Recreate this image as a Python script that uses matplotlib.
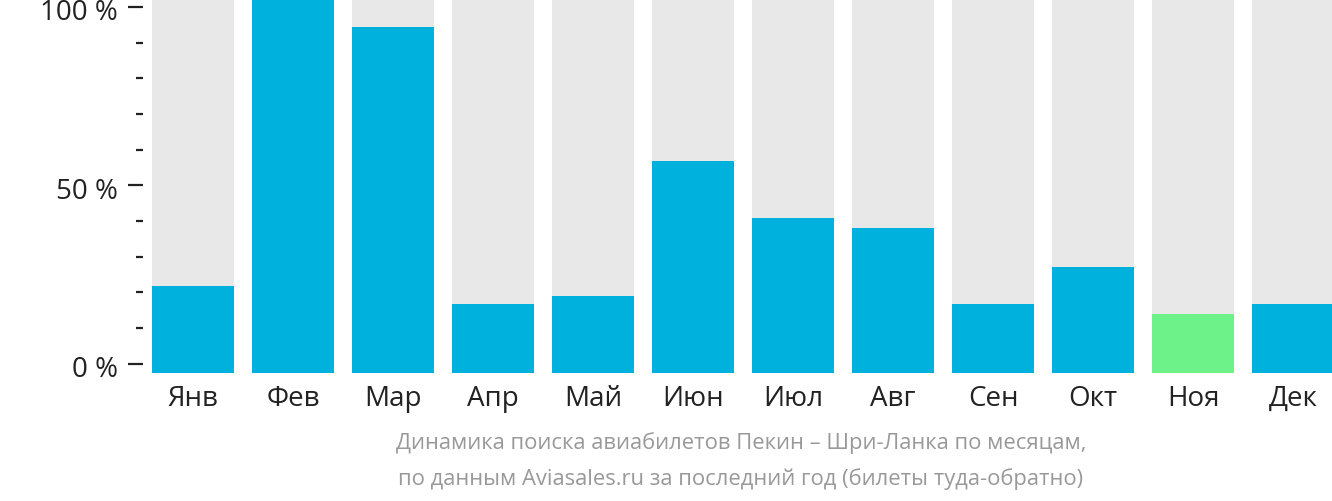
import matplotlib
matplotlib.use("Agg")
import matplotlib.pyplot as plt
from matplotlib.ticker import MultipleLocator, FuncFormatter
from matplotlib.transforms import ScaledTranslation

months = ["Янв", "Фев", "Мар", "Апр", "Май", "Июн", "Июл", "Авг", "Сен", "Окт", "Ноя", "Дек"]
values = [21.9, 102.2, 94.4, 16.6, 19.1, 56.7, 40.7, 37.9, 16.6, 27.2, 13.8, 16.6]
highlight = [False] * 10 + [True, False]
y_low, y_high = -2.6, 102.2

blue = "#00B1DD"
green = "#6CF288"
grey = "#E8E8E8"

plt.rcParams['font.family'] = ['Open Sans', 'DejaVu Sans']

fig = plt.figure(figsize=(13.32, 5.02), dpi=100)
ax = fig.add_axes([143 / 1332, (502 - 374) / 502, (1332 - 143) / 1332, 374 / 502])

x = list(range(len(months)))
ax.bar(x, [y_high - y_low] * len(x), bottom=y_low, width=0.82, color=grey, zorder=1)
ax.bar(x, [v - y_low for v in values], bottom=y_low, width=0.82,
       color=[green if h else blue for h in highlight], zorder=2)

ax.set_xlim(-0.5, 11.39)
ax.set_ylim(y_low, y_high)
for s in ax.spines.values():
    s.set_visible(False)

ax.yaxis.set_major_locator(MultipleLocator(50))
ax.yaxis.set_minor_locator(MultipleLocator(10))
ax.yaxis.set_major_formatter(FuncFormatter(lambda v, p: f"{int(v)} %"))
ax.tick_params(axis="y", which="major", length=11, width=1.6, color="#222222",
               labelsize=20, labelcolor="#222222", pad=7)
ax.tick_params(axis="y", which="minor", length=5, width=1.6, color="#222222")

ax.set_xticks(x)
ax.set_xticklabels(months)
ax.tick_params(axis="x", length=0, labelsize=20, labelcolor="#222222", pad=8)

fig.canvas.draw()
shift = ScaledTranslation(0, -2 / 100, fig.dpi_scale_trans)
for lbl in ax.get_yticklabels():
    lbl.set_transform(lbl.get_transform() + shift)

fig.text(741 / 1332, 1 - 443 / 502, "Динамика поиска авиабилетов Пекин – Шри-Ланка по месяцам,",
         ha="center", va="center", fontsize=15.8, color="#999999")
fig.text(741 / 1332, 1 - 479 / 502, "по данным Aviasales.ru за последний год (билеты туда-обратно)",
         ha="center", va="center", fontsize=15.8, color="#999999")

fig.savefig("out.png", dpi=100)
